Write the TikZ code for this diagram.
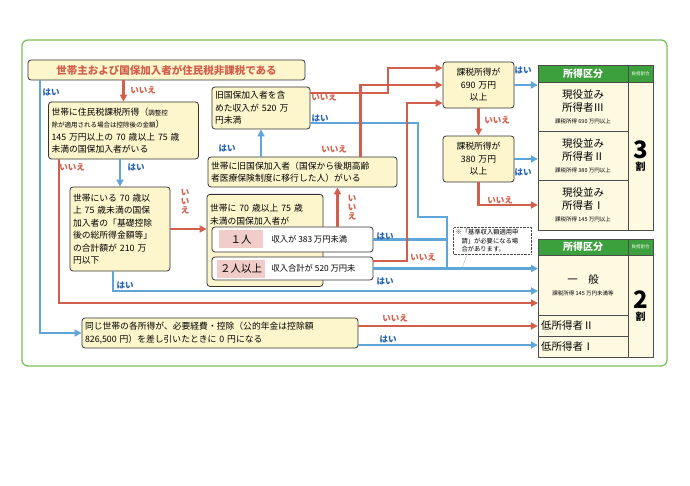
\documentclass[tikz,border=0pt]{standalone}
\usepackage{fontspec}
\newfontfamily\jp{Noto Sans CJK JP}
\usetikzlibrary{positioning}
\usetikzlibrary{arrows.meta}
\definecolor{hblue}{RGB}{95,165,215}
\definecolor{hred}{RGB}{210,95,75}
\definecolor{tblue}{RGB}{40,100,170}
\definecolor{boxfill}{RGB}{253,246,205}
\definecolor{cellfill}{RGB}{254,250,225}
\definecolor{hgreen}{RGB}{60,160,60}
\definecolor{frame}{RGB}{125,195,90}
\definecolor{pinkfill}{RGB}{240,205,200}
\tikzset{
    box/.style = {draw=black!80, thick, rounded corners=3pt, fill=boxfill, align=left, inner sep=3pt,
                  font=\jp\fontsize{8.8}{12.5}\selectfont},
    cbox/.style = {box, align=center},
    cell/.style = {draw=black!70, fill=cellfill, minimum width=90pt, align=center, inner sep=1pt,
                   font=\jp\fontsize{10.5}{13}\selectfont},
    rcell/.style = {draw=black!70, fill=cellfill, minimum width=25pt, align=center, inner sep=1pt},
    head/.style = {draw=black!70, fill=hgreen, text=white, align=center, inner sep=0pt},
    yes/.style = {-{Triangle[length=7pt,width=7pt]}, line width=2.2pt, draw=hblue},
    no/.style = {-{Triangle[length=7pt,width=7pt]}, line width=2.2pt, draw=hred},
    yesl/.style = {line width=2.2pt, draw=hblue},
    hai/.style = {text=tblue, font=\jp\bfseries\fontsize{8.5}{9}\selectfont, inner sep=0pt},
    iie/.style = {text=hred, font=\jp\bfseries\fontsize{8.5}{9}\selectfont, inner sep=0pt, align=center},
    small/.style = {font=\jp\fontsize{5.5}{6}\selectfont}
}
\begin{document}
\begin{tikzpicture}[x=1pt,y=-1pt]
\useasboundingbox (0,0) rectangle (690,486);
\draw[frame, line width=1.3pt, rounded corners=6pt] (22,40) rectangle (667,366);
%
% question boxes
\node[box, minimum width=277pt, minimum height=20pt, text=hred, font=\jp\bfseries\fontsize{10.5}{12}\selectfont] at (166.5,70) (top) {世帯主および国保加入者が住民税非課税である};
\node[box, text width=144pt, minimum height=57pt] at (123.5,130.5) (b1) {世帯に住民税課税所得（{\fontsize{6.5}{8}\selectfont 調整控}\\{\fontsize{6.5}{8}\selectfont 除が適用される場合は控除後の金額}）\\145 万円以上の 70 歳以上 75 歳\\未満の国保加入者がいる};
\node[box, text width=94pt, minimum height=84pt] at (120,229) (b2) {世帯にいる 70 歳以\\上 75 歳未満の国保\\加入者の「基礎控除\\後の総所得金額等」\\の合計額が 210 万\\円以下};
\node[box, text width=92pt, minimum height=42pt] at (261,108) (b3) {旧国保加入者を含\\めた収入が 520 万\\円未満};
\node[box, text width=183pt, minimum height=30pt] at (302.5,172) (b4) {世帯に旧国保加入者（国保から後期高齢\\者医療保険制度に移行した人）がいる};
\node[box, text width=110pt, minimum height=92pt, anchor=north] at (265,194) (b5) {世帯に 70 歳以上 75 歳\\未満の国保加入者が\\[40pt]\mbox{}};
\node[box, fill=white, minimum width=161pt, minimum height=25pt] at (292.5,239.5) (r1) {};
\node[box, fill=white, minimum width=161pt, minimum height=23pt] at (292.5,268.5) (r2) {};
\node[fill=pinkfill, minimum width=44pt, minimum height=18pt, font=\jp\fontsize{10.5}{10}\selectfont] at (241,239.5) (p1) {１人};
\node[fill=pinkfill, minimum width=44pt, minimum height=18pt, font=\jp\fontsize{10.5}{10}\selectfont] at (241,268.5) (p2) {２人以上};
\node[font=\jp\fontsize{8.3}{9}\selectfont, anchor=west] at (268,239.5) {収入が 383 万円未満};
\node[font=\jp\fontsize{8.3}{9}\selectfont, anchor=west] at (268,268.5) {収入合計が 520 万円未};
\node[cbox, text width=65pt, minimum height=46pt] at (478.5,85) (b6) {課税所得が\\690 万円\\以上};
\node[cbox, text width=65pt, minimum height=46pt] at (478.5,159) (b7) {課税所得が\\380 万円\\以上};
\node[box, text width=270pt, minimum height=30pt] at (220,333) (b8) {同じ世帯の各所得が、必要経費・控除（公的年金は控除額\\826,500 円）を差し引いたときに 0 円になる};
%
% tables
\node[head, minimum width=90pt, minimum height=17pt, font=\jp\bfseries\fontsize{10}{10}\selectfont] at (583,73.5) (h1) {所得区分};
\node[head, minimum width=25pt, minimum height=17pt, font=\jp\fontsize{4.5}{5}\selectfont] at (640.5,73.5) (h1r) {負担割合};
\node[cell, minimum height=49pt] at (583,106.5) (t3) {現役並み\\所得者Ⅲ\\[-1pt]{\fontsize{5.5}{6}\selectfont 課税所得 690 万円以上}};
\node[cell, minimum height=49pt] at (583,155.5) (t2) {現役並み\\所得者Ⅱ\\[-1pt]{\fontsize{5.5}{6}\selectfont 課税所得 380 万円以上}};
\node[cell, minimum height=50pt] at (583,205) (t1) {現役並み\\所得者Ⅰ\\[-1pt]{\fontsize{5.5}{6}\selectfont 課税所得 145 万円以上}};
\node[rcell, minimum height=148pt, font=\jp\bfseries] at (640.5,156) (k3) {{\fontsize{24}{24}\selectfont 3}\\{\fontsize{10}{11}\selectfont 割}};
\node[head, minimum width=90pt, minimum height=16pt, font=\jp\bfseries\fontsize{10}{10}\selectfont] at (583,247) (h2) {所得区分};
\node[head, minimum width=25pt, minimum height=16pt, font=\jp\fontsize{4.5}{5}\selectfont] at (640.5,247) (h2r) {負担割合};
\node[cell, minimum height=60pt] at (583,285) (tg) {一\quad 般\\[-1pt]{\fontsize{5.5}{6}\selectfont 課税所得 145 万円未満等}};
\node[cell, minimum height=21pt, text width=84pt, align=left] at (583,325.5) (tl2) {低所得者Ⅱ};
\node[cell, minimum height=21pt, text width=84pt, align=left] at (583,346.5) (tl1) {低所得者Ⅰ};
\node[rcell, minimum height=102pt, font=\jp\bfseries] at (640.5,306) (k2) {{\fontsize{24}{24}\selectfont 2}\\{\fontsize{10}{11}\selectfont 割}};
%
% note
\node[draw=black!70, densely dotted, fill=white, text width=74pt, inner sep=2pt, align=left,
      font=\jp\fontsize{6.3}{8.5}\selectfont] at (492.5,241) (note) {※「基準収入額適用申\\\hspace*{6pt}請」が必要になる場\\\hspace*{6pt}合があります。};
\coordinate (pt) at (462,268);
\draw[black!70, densely dotted] (note.south west) ++(14pt,0) -- (pt);
%
\coordinate (in1) at (538,268.5);
\coordinate (in2) at (538,291);
\coordinate (in3) at (538,303);
%
\draw[yes] ([xshift=12pt]top.south west) |- (b8.west);
\draw[no] (top.south -| b1.north) -- (b1.north);
\draw[no] ([xshift=11pt]b1.south west) |- (in3);
\draw[yes] (b1.south -| b2.north) -- (b2.north);
\draw[no] (b2.east) -- (b2.east -| b5.west);
\draw[yes] ([xshift=-7pt]b2.south) |- (in2);
\draw[yesl] (r1.east) -| (447,268.5);
\draw[yesl] ([yshift=6pt]b3.south east) -| (418,217) -| (447,268.5);
\draw[yes] (r2.east) -- (in1);
\draw[no] ([yshift=-4pt]r2.north east) -| (407,103) -- ([yshift=-18pt]b6.west);
\draw[no] ([xshift=45pt]r1.north) -- ([xshift=45pt]r1.north |- b4.south);
\draw[yes] (b4.north -| b3.south) -- (b3.south);
\draw[no] ([xshift=58pt]b4.north) |- (b6.west);
\draw[no] ([yshift=15pt]b3.east) -| (388,68) -- ([yshift=17pt]b6.west);
\draw[yes] (b6.east) -- (b6.east -| t3.west);
\draw[no] (b6.south) -- (b7.north);
\draw[yes] (b7.east) -- (b7.east -| t2.west);
\draw[no] (b7.south) |- (t1.west);
\draw[no] ([yshift=7pt]b8.east) -- ([yshift=7pt]b8.east -| tl2.west);
\draw[yes] ([yshift=-12pt]b8.east) -- ([yshift=-12pt]b8.east -| tl1.west);
%
% labels
\node[hai] at (51,92) {はい};
\node[iie] at (143,90) {いいえ};
\node[iie] at (72,167) {いいえ};
\node[hai] at (136,167) {はい};
\node[iie] at (185,202) {い\\い\\え};
\node[hai] at (125,285) {はい};
\node[hai] at (227,148) {はい};
\node[iie] at (334,149) {いいえ};
\node[iie] at (352,208) {い\\い\\え};
\node[iie] at (324,97) {いいえ};
\node[hai] at (320,118) {はい};
\node[hai] at (385,236) {はい};
\node[hai] at (385,281) {はい};
\node[iie] at (423,257) {いいえ};
\node[hai] at (523,70) {は\\い};
\node[iie] at (497,120) {いいえ};
\node[hai] at (523,172) {は\\い};
\node[iie] at (500,200) {いいえ};
\node[iie] at (395,318) {いいえ};
\node[hai] at (388,339) {はい};
\end{tikzpicture}
\end{document}
